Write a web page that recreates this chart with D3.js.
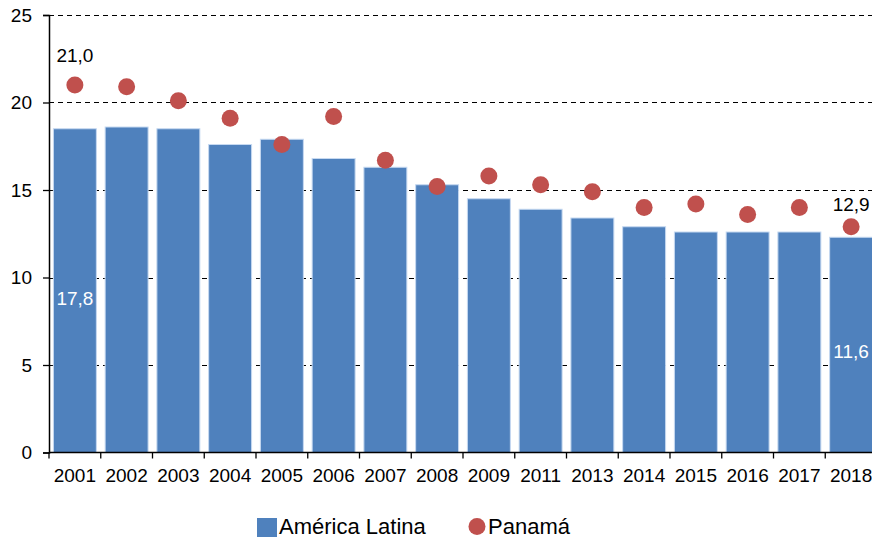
<html>
<script src='https://d3js.org/d3.v7.min.js'></script>
<style>
    body { margin: 0; background: #fff; }
    text { font-family: "Liberation Sans", Arial, sans-serif; }
</style>
<body>
<div id="chart"></div>
<script>
    // values
    var years = ["2001","2002","2003","2004","2005","2006","2007","2008","2009","2011","2013","2014","2015","2016","2017","2018"];
    var latam = [18.5, 18.6, 18.5, 17.6, 17.9, 16.8, 16.3, 15.3, 14.5, 13.9, 13.4, 12.9, 12.6, 12.6, 12.6, 12.3];
    var panama = [21.0, 20.9, 20.1, 19.1, 17.6, 19.2, 16.7, 15.2, 15.8, 15.3, 14.9, 14.0, 14.2, 13.6, 14.0, 12.9];
    var yTicks = [0, 5, 10, 15, 20, 25];
    var seriesNames = ["América Latina", "Panamá"];
    // data labels as printed on the chart
    var barLabels = [{year: "2001", text: "17,8"}, {year: "2018", text: "11,6"}];
    var dotLabels = [{year: "2001", text: "21,0"}, {year: "2018", text: "12,9"}];

    const width = 872, height = 539;
    const svg = d3.select("#chart").append("svg")
        .attr("width", width)
        .attr("height", height);

    const x = d3.scaleBand()
        .domain(years)
        .range([49, 877])
        .paddingInner(0.17)
        .paddingOuter(0.085);

    const y = d3.scaleLinear()
        .domain([0, 25])
        .range([452.5, 15]);

    // dashed gridlines
    svg.selectAll("line.grid")
        .data(yTicks.filter(d => d > 0))
        .enter()
        .append("line")
        .attr("x1", 49)
        .attr("x2", width)
        .attr("y1", d => Math.round(y(d)) + 0.5)
        .attr("y2", d => Math.round(y(d)) + 0.5)
        .attr("stroke", "#000")
        .attr("stroke-width", 1)
        .attr("stroke-dasharray", "5,4");

    // bars
    svg.selectAll("rect.bar")
        .data(latam)
        .enter()
        .append("rect")
        .attr("x", (d, i) => x(years[i]))
        .attr("y", d => y(d))
        .attr("width", x.bandwidth())
        .attr("height", d => y(0) - y(d))
        .attr("fill", "#4f81bd")
        .attr("stroke", "#c6d9f1")
        .attr("stroke-width", 1);

    // dots
    svg.selectAll("circle.dot")
        .data(panama)
        .enter()
        .append("circle")
        .attr("cx", (d, i) => x(years[i]) + x.bandwidth() / 2)
        .attr("cy", d => y(d))
        .attr("r", 8.5)
        .attr("fill", "#c0504d");

    // y axis
    const yAxis = svg.append("g")
        .attr("transform", "translate(49,0)")
        .call(d3.axisLeft(y).tickValues(yTicks).tickSize(6).tickPadding(11).tickFormat(d3.format("d")));
    yAxis.select(".domain").attr("stroke", "#000").attr("stroke-width", 1.5);
    yAxis.selectAll(".tick line").attr("stroke-width", 1.3);
    yAxis.selectAll("text").style("font-size", "19px").attr("fill", "#000")
        .style("font-family", '"Liberation Sans", Arial, sans-serif');

    // x axis line and ticks between categories
    svg.append("line")
        .attr("x1", 49).attr("x2", width)
        .attr("y1", y(0)).attr("y2", y(0))
        .attr("stroke", "#000").attr("stroke-width", 1.5);
    const step = x.step();
    svg.selectAll("line.xtick")
        .data(years.concat(["end"]))
        .enter()
        .append("line")
        .attr("x1", (d, i) => 49 + i * step)
        .attr("x2", (d, i) => 49 + i * step)
        .attr("y1", y(0))
        .attr("y2", y(0) + 6)
        .attr("stroke", "#000")
        .attr("stroke-width", 1.3);
    svg.selectAll("text.xlab")
        .data(years)
        .enter()
        .append("text")
        .attr("x", d => x(d) + x.bandwidth() / 2)
        .attr("y", 482)
        .attr("text-anchor", "middle")
        .style("font-size", "19px")
        .text(d => d);

    // data labels
    svg.selectAll("text.barlab")
        .data(barLabels)
        .enter()
        .append("text")
        .attr("x", d => x(d.year) + x.bandwidth() / 2)
        .attr("y", d => y(latam[years.indexOf(d.year)]) + (d.year === "2001" ? 176 : 121))
        .attr("text-anchor", "middle")
        .attr("fill", "#fff")
        .style("font-size", "19px")
        .text(d => d.text);

    svg.selectAll("text.dotlab")
        .data(dotLabels)
        .enter()
        .append("text")
        .attr("x", d => x(d.year) + x.bandwidth() / 2)
        .attr("y", d => y(panama[years.indexOf(d.year)]) + (d.year === "2001" ? -23 : -16))
        .attr("text-anchor", "middle")
        .attr("fill", "#000")
        .style("font-size", "19px")
        .text(d => d.text);

    // legend
    const legend = svg.append("g");
    legend.append("rect")
        .attr("x", 257).attr("y", 518)
        .attr("width", 20).attr("height", 19)
        .attr("fill", "#4f81bd");
    legend.append("text")
        .attr("x", 279).attr("y", 534)
        .style("font-size", "22px")
        .text(seriesNames[0]);
    legend.append("circle")
        .attr("cx", 477).attr("cy", 526.5).attr("r", 8.5)
        .attr("fill", "#c0504d");
    legend.append("text")
        .attr("x", 488).attr("y", 534)
        .style("font-size", "22px")
        .text(seriesNames[1]);
</script>
</body>
</html>
